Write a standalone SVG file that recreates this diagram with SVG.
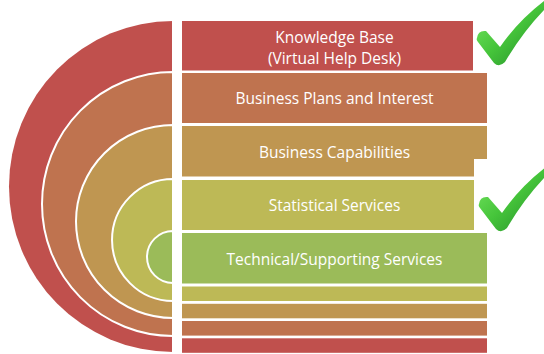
<svg xmlns="http://www.w3.org/2000/svg" width="544" height="354" viewBox="0 0 544 354">
<style>
.t{font-family:"Open Sans","Noto Sans",sans-serif;font-size:15.5px;fill:#FFFFFF;text-anchor:middle}
.ring{stroke:#FFFFFF;stroke-width:2}
.c1{fill:#C0504D}.c2{fill:#BF734F}.c3{fill:#BF9651}.c4{fill:#BDB956}.c5{fill:#9BBB59}
</style>
<defs>
<linearGradient id="chk" x1="0" y1="0" x2="1" y2="1">
<stop offset="0" stop-color="#7BE865"/>
<stop offset="0.5" stop-color="#45C43A"/>
<stop offset="1" stop-color="#22882A"/>
</linearGradient>
<path id="check" d="M477,38 Q478,30 486,31 L500,47 Q518,21 544,1 L544,10 Q522,33 505,62 Q499,68 494,63 L478,42 Q476,40 477,38 Z"/>
</defs>
<rect width="544" height="354" fill="#FFFFFF"/>
<g id="layer-knowledge-base">
<path class="c1" d="M173,21 A164,165.5 0 0 0 173,352 Z"/>
<rect class="c1" x="182" y="21" width="291" height="49.5"/>
<text class="t" x="334.5" y="42.5">Knowledge Base</text>
<text class="t" x="334.5" y="63.5">(Virtual Help Desk)</text>
<rect class="c1" x="182" y="338.3" width="305" height="14.5"/>
</g>
<g id="layer-business-plans">
<path class="c2 ring" d="M173,72 A131,132 0 0 0 173,336 Z"/>
<rect class="c2" x="182" y="73" width="305" height="50"/>
<text class="t" x="334.5" y="104">Business Plans and Interest</text>
<rect class="c2" x="182" y="321" width="305" height="14.6"/>
</g>
<g id="layer-business-capabilities">
<path class="c3 ring" d="M173,125 A97,96.5 0 0 0 173,318 Z"/>
<rect class="c3" x="182" y="126" width="305" height="50.5"/>
<text class="t" x="334.5" y="157.5">Business Capabilities</text>
<rect class="c3" x="182" y="303.8" width="305" height="14.5"/>
</g>
<g id="layer-statistical-services">
<path class="c4 ring" d="M173,179 A61,61 0 0 0 173,301 Z"/>
<rect class="c4" x="182" y="180" width="305" height="50"/>
<text class="t" x="334.5" y="211">Statistical Services</text>
<rect class="c4" x="182" y="286.5" width="305" height="14.5"/>
</g>
<g id="layer-technical-services">
<path class="c5 ring" d="M173,231 A26,26 0 0 0 173,283 Z"/>
<rect class="c5" x="182" y="233" width="305" height="50.5"/>
<text class="t" x="334.5" y="265">Technical/Supporting Services</text>
</g>
<rect x="172" y="0" width="10" height="354" fill="#FFFFFF"/>
<g id="check-1">
<use href="#check" fill="url(#chk)"/>
</g>
<g id="check-2">
<rect x="474" y="159" width="70" height="73" fill="#FFFFFF"/>
<use href="#check" fill="url(#chk)" transform="translate(2,166)"/>
</g>
<g id="connectors"/>
</svg>
